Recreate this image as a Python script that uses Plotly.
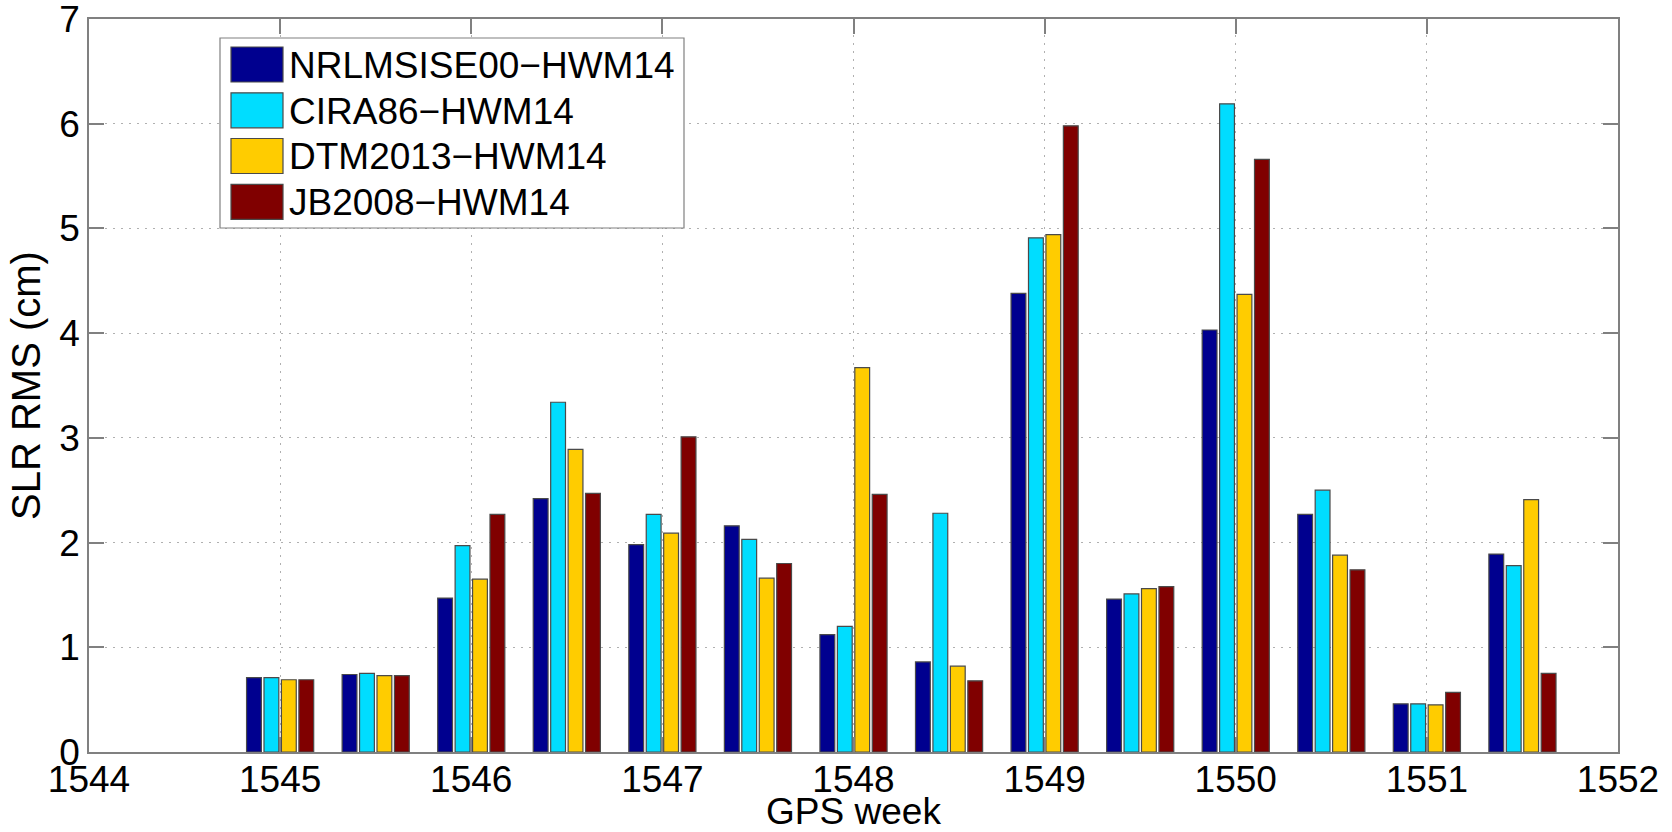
import plotly.graph_objects as go

# ---- data ----
weeks = [1545, 1545.5, 1546, 1546.5, 1547, 1547.5, 1548, 1548.5,
         1549, 1549.5, 1550, 1550.5, 1551, 1551.5]
nrlmsise = [0.71, 0.74, 1.47, 2.42, 1.98, 2.16, 1.12, 0.86, 4.38, 1.46, 4.03, 2.27, 0.46, 1.89]
cira86 = [0.71, 0.75, 1.97, 3.34, 2.27, 2.03, 1.20, 2.28, 4.91, 1.51, 6.19, 2.50, 0.46, 1.78]
dtm2013 = [0.69, 0.73, 1.65, 2.89, 2.09, 1.66, 3.67, 0.82, 4.94, 1.56, 4.37, 1.88, 0.45, 2.41]
jb2008 = [0.69, 0.73, 2.27, 2.47, 3.01, 1.80, 2.46, 0.68, 5.98, 1.58, 5.66, 1.74, 0.57, 0.75]

series_names = ["NRLMSISE00\u2212HWM14", "CIRA86\u2212HWM14", "DTM2013\u2212HWM14", "JB2008\u2212HWM14"]
series_values = [nrlmsise, cira86, dtm2013, jb2008]
series_colors = ["#00008F", "#00DDFF", "#FFCC00", "#800000"]

x_ticks = [1544, 1545, 1546, 1547, 1548, 1549, 1550, 1551, 1552]
y_ticks = [0, 1, 2, 3, 4, 5, 6, 7]

FONT = "Liberation Sans, Arial, Helvetica, sans-serif"
W, H = 1672, 832
L, R, T, B = 89, 54, 19, 80

fig = go.Figure()
for name, vals, col in zip(series_names, series_values, series_colors):
    fig.add_trace(go.Bar(
        x=weeks, y=vals, name=name, showlegend=False,
        marker=dict(color=col, line=dict(color="#4a4a4a", width=1.2)),
    ))

axis_common = dict(
    showline=True, linecolor="#808080", linewidth=1.5, mirror="ticks",
    ticks="inside", ticklen=15, tickcolor="#808080", tickwidth=1.5,
    showgrid=True, gridcolor="#b0b0b0", griddash="2px,6px", gridwidth=1,
    zeroline=False, tickfont=dict(family=FONT, size=37, color="black"),
    ticklabeloverflow="allow",
)

fig.update_layout(
    width=W, height=H,
    margin=dict(l=L, r=R, t=T, b=B, autoexpand=False),
    paper_bgcolor="white", plot_bgcolor="white",
    barmode="group", bargap=0.27, bargroupgap=0.15,
    font=dict(family=FONT, color="black"),
    xaxis=dict(range=[1544, 1552], tickvals=x_ticks, ticktext=[str(v) for v in x_ticks],
               ticklabelstandoff=-6,
               title=dict(text="GPS week", font=dict(family=FONT, size=37, color="black"), standoff=3),
               **axis_common),
    yaxis=dict(range=[0, 7], tickvals=y_ticks, ticklabelstandoff=0,
               title=dict(text="SLR RMS (cm)", font=dict(family=FONT, size=40, color="black"), standoff=6),
               **axis_common),
)

# ---- manual legend (large swatches like the original) ----
pw, ph = W - L - R, H - T - B
def px(xp): return (xp - L) / pw
def py(yp): return (H - B - yp) / ph

fig.add_shape(type="rect", xref="paper", yref="paper",
              x0=px(220), x1=px(684), y0=py(228), y1=py(38),
              line=dict(color="#808080", width=1.2), fillcolor="white", layer="above")
row_centers = [64.5, 110.3, 156.0, 201.8]
for name, col, yc in zip(series_names, series_colors, row_centers):
    fig.add_shape(type="rect", xref="paper", yref="paper",
                  x0=px(231), x1=px(283), y0=py(yc + 17.5), y1=py(yc - 17.5),
                  line=dict(color="#4a4a4a", width=1.2), fillcolor=col, layer="above")
    fig.add_annotation(xref="paper", yref="paper", x=px(287), y=py(yc + 1),
                       text=name, showarrow=False, xanchor="left", yanchor="middle",
                       font=dict(family=FONT, size=37, color="black"))

fig.write_html("out.html")
